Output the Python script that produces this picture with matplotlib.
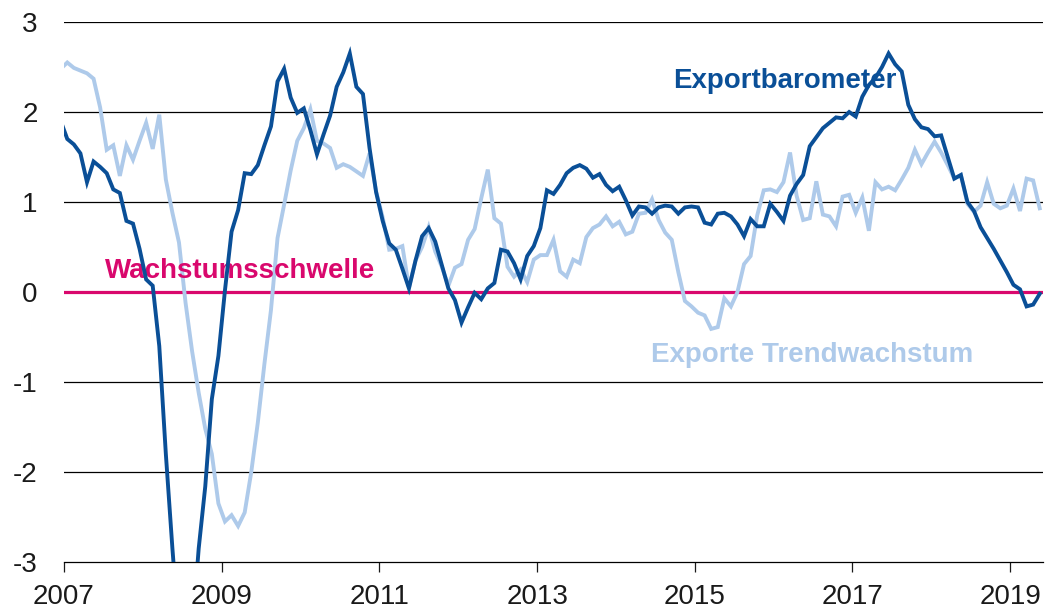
import numpy as np
import pandas as pd
import matplotlib
matplotlib.use('Agg')
from matplotlib import pyplot as plt

plt.rcParams['font.family'] = ['Liberation Sans', 'DejaVu Sans']

# monthly values, Dec 2006 .. May 2019
months = pd.date_range('2006-12-01', periods=150, freq='MS')

exportbarometer = [
    1.90, 1.70, 1.64, 1.54, 1.22, 1.45, 1.39, 1.32, 1.14, 1.10, 0.79, 0.76,
    0.48, 0.14, 0.07, -0.60, -1.80, -2.85, -3.80, -4.30, -3.80, -2.85, -2.16, -1.19,
    -0.71, 0.02, 0.67, 0.91, 1.32, 1.31, 1.41, 1.63, 1.84, 2.34, 2.48, 2.16,
    1.99, 2.04, 1.80, 1.53, 1.75, 1.96, 2.28, 2.44, 2.65, 2.28, 2.20, 1.60,
    1.11, 0.79, 0.54, 0.47, 0.26, 0.04, 0.35, 0.62, 0.71, 0.56, 0.30, 0.04,
    -0.09, -0.34, -0.17, -0.01, -0.08, 0.04, 0.10, 0.47, 0.45, 0.32, 0.14, 0.40,
    0.51, 0.71, 1.13, 1.09, 1.19, 1.32, 1.38, 1.41, 1.37, 1.27, 1.31, 1.19,
    1.12, 1.17, 1.02, 0.85, 0.95, 0.94, 0.87, 0.94, 0.96, 0.95, 0.87, 0.94,
    0.95, 0.94, 0.77, 0.75, 0.87, 0.88, 0.84, 0.75, 0.62, 0.81, 0.73, 0.73,
    0.98, 0.89, 0.79, 1.07, 1.20, 1.30, 1.62, 1.72, 1.82, 1.88, 1.94, 1.93,
    2.00, 1.95, 2.17, 2.30, 2.38, 2.50, 2.65, 2.53, 2.45, 2.08, 1.92, 1.83,
    1.81, 1.73, 1.74, 1.50, 1.26, 1.30, 1.00, 0.90, 0.72, 0.60, 0.48, 0.35,
    0.22, 0.08, 0.03, -0.16, -0.14, -0.02,
]

trendwachstum = [
    2.48, 2.55, 2.49, 2.46, 2.43, 2.37, 2.05, 1.58, 1.63, 1.29, 1.63, 1.47,
    1.68, 1.88, 1.59, 1.97, 1.25, 0.88, 0.55, -0.12, -0.66, -1.12, -1.52, -1.80,
    -2.35, -2.55, -2.48, -2.60, -2.45, -2.00, -1.45, -0.80, -0.20, 0.60, 0.97, 1.35,
    1.68, 1.82, 2.03, 1.68, 1.65, 1.60, 1.38, 1.42, 1.39, 1.34, 1.29, 1.54,
    1.12, 0.83, 0.47, 0.48, 0.51, 0.05, 0.35, 0.50, 0.72, 0.45, 0.28, 0.07,
    0.27, 0.31, 0.58, 0.70, 1.04, 1.36, 0.82, 0.76, 0.28, 0.17, 0.25, 0.11,
    0.36, 0.41, 0.41, 0.58, 0.23, 0.17, 0.36, 0.32, 0.61, 0.71, 0.75, 0.84,
    0.73, 0.78, 0.64, 0.67, 0.87, 0.88, 1.03, 0.80, 0.66, 0.58, 0.22, -0.10,
    -0.16, -0.23, -0.26, -0.41, -0.39, -0.07, -0.16, 0.00, 0.31, 0.40, 0.85, 1.13,
    1.14, 1.11, 1.22, 1.55, 1.07, 0.80, 0.82, 1.23, 0.86, 0.84, 0.73, 1.06,
    1.08, 0.88, 1.05, 0.68, 1.22, 1.14, 1.17, 1.13, 1.25, 1.38, 1.58, 1.42,
    1.55, 1.67, 1.55, 1.41, 1.26, 1.30, 0.98, 0.89, 0.96, 1.22, 0.98, 0.93,
    0.96, 1.15, 0.90, 1.26, 1.24, 0.93,
]

year_ticks = [2007, 2009, 2011, 2013, 2015, 2017, 2019]
y_ticks = [-3, -2, -1, 0, 1, 2, 3]

dark = '#0a4f97'
light = '#aecaea'
magenta = '#d9086d'

# mid-month positions in decimal years
t = months.year + (months.month - 0.5) / 12.0

fig = plt.figure(figsize=(10.62, 6.12), dpi=100)
ax = fig.add_axes([64 / 1062, 1 - 562 / 612, (1043 - 64) / 1062, 540 / 612])

for v in y_ticks:
    if v != 0 and v != -3:
        ax.axhline(v, color='black', lw=0.9, zorder=1)
ax.axhline(0, color=magenta, lw=2.3, zorder=2)

ax.plot(t, trendwachstum, color=light, lw=2.8, zorder=3, solid_joinstyle='miter')
ax.plot(t, exportbarometer, color=dark, lw=2.8, zorder=4, solid_joinstyle='miter')

ax.set_xlim(2007, 2019 + 5 / 12)
ax.set_ylim(-3, 3)
ax.set_yticks(y_ticks)
ax.set_yticklabels([str(v) for v in y_ticks])
ax.set_xticks(year_ticks)
ax.set_xticklabels([str(y) for y in year_ticks])

for s in ['left', 'right', 'top']:
    ax.spines[s].set_visible(False)
ax.spines['bottom'].set_color('black')
ax.spines['bottom'].set_linewidth(0.9)

ax.tick_params(axis='y', length=0, pad=19, labelsize=20, colors='#1a1a1a')
ax.tick_params(axis='x', length=7, width=0.9, direction='out', pad=9,
               labelsize=20, colors='#1a1a1a')

ax.text(2007.52, 0.156, 'Wachstumsschwelle', color=magenta, fontsize=20,
        fontweight='bold', va='baseline', ha='left')
ax.text(2014.73, 2.27, 'Exportbarometer', color=dark, fontsize=20,
        fontweight='bold', va='baseline', ha='left')
ax.text(2014.44, -0.78, 'Exporte Trendwachstum', color=light, fontsize=20,
        fontweight='bold', va='baseline', ha='left')

fig.savefig('out.png', dpi=100)
